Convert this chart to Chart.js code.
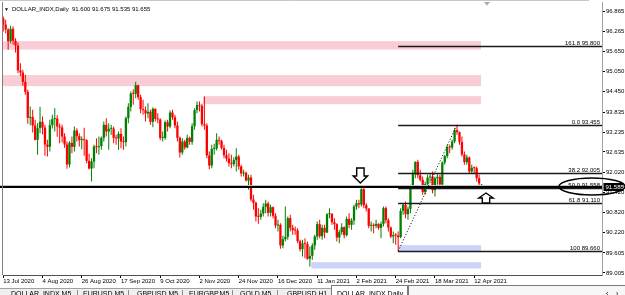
<!DOCTYPE html>
<html>
<head>
<meta charset="utf-8">
<title>DOLLAR_INDX,Daily</title>
<script src="https://cdn.jsdelivr.net/npm/chart.js@4.4.1/dist/chart.umd.min.js"></script>
<style>
  html, body { margin: 0; padding: 0; background: #fff; overflow: hidden; }
  #wrap { position: relative; width: 625px; height: 295px; overflow: hidden;
          font-family: 'Liberation Sans', Arial, sans-serif; color: #000; }
  #chart { position: absolute; left: 0; top: 0; }
  #caption { position: absolute; left: 4px; top: 6px; font-size: 6px; line-height: 6px; white-space: nowrap; }
  #caption .tri { font-size: 5px; margin-right: 3px; }
  #tabbar { position: absolute; left: 0; top: 288px; width: 625px; height: 7px;
            background: #efefef; border-top: 1px solid #a0a0a0; }
  .tab { position: absolute; top: 290px; font-size: 7px; line-height: 7px; white-space: nowrap; }
  .sep { position: absolute; top: 290px; width: 1px; height: 6px; background: #8c8c8c; }
  #active { position: absolute; left: 331px; top: 285px; width: 75px; height: 12px;
            background: #fff; border: 1px solid #7a7a7a; }
  #scroller { position: absolute; left: 408px; top: 285px; width: 217px; height: 12px;
              background: #f7f7f7; border: 1px solid #7a7a7a; }
</style>
</head>
<body>
<div id="wrap">
  <canvas id="chart" width="625" height="288"></canvas>
  <div id="caption"><span class="tri">&#9660;</span>DOLLAR_INDX,Daily&nbsp; 91.600 91.675 91.535 91.655</div>
  <div id="tabbar"></div>
  <div id="active"></div>
  <div id="scroller"></div>
  <span class="tab" style="left:11px">DOLLAR_INDX,M5</span><span class="sep" style="left:77px"></span>
  <span class="tab" style="left:83px">EURUSD,M5</span><span class="sep" style="left:128px"></span>
  <span class="tab" style="left:137px">GBPUSD,M5</span><span class="sep" style="left:182px"></span>
  <span class="tab" style="left:189px">EURGBP,M5</span><span class="sep" style="left:232px"></span>
  <span class="tab" style="left:240px">GOLD,M5</span><span class="sep" style="left:277px"></span>
  <span class="tab" style="left:287px">GBPUSD,H1</span>
  <span class="tab" style="left:337px">DOLLAR_INDX,Daily</span>
  <span class="tab" style="left:606px">&lsaquo;</span><span class="tab" style="left:616px">&rsaquo;</span>
</div>

<script>
// Daily candles, 13 Jul 2020 .. 15 Apr 2021 (one row = one week)
const opens = [
  96.64, 96.46, 96.31, 95.96, 96.33,
  95.97, 95.83, 95.08, 95.02, 94.74,
  94.44, 93.66, 93.69, 93.43, 93.00,
  93.35, 93.54, 93.37, 92.86, 92.79,
  93.44, 93.62, 93.64, 93.40, 93.37,
  93.10, 92.86, 92.26, 92.91, 92.79,
  93.28, 93.11, 92.99, 93.00, 92.99,
  92.37, 92.14, 92.35, 92.80, 92.78,
  92.81, 93.06, 93.45, 93.25, 93.33,
  93.34, 93.06, 93.04, 93.18, 92.95,
  92.93, 93.65, 93.99, 94.39, 94.38,
  94.64, 94.28, 93.92, 93.89, 93.79,
  93.84, 93.54, 93.93, 93.63, 93.61,
  93.06, 93.06, 93.53, 93.40, 93.82,
  93.68, 93.43, 93.06, 92.62, 92.95,
  92.77, 93.06, 92.94, 93.41, 93.89,
  94.04, 94.02, 93.47, 93.43, 92.53,
  92.23, 92.73, 92.74, 93.00, 92.97,
  92.76, 92.54, 92.44, 92.30, 92.27,
  92.39, 92.50, 92.20, 91.99, 92.01, 91.78,
  91.87, 91.21, 91.11, 90.70,
  90.69, 90.79, 90.99, 91.09, 90.81,
  90.98, 90.72, 90.43, 90.45, 89.83,
  90.02, 90.09, 90.65, 90.36, 90.29,
  90.28, 89.96, 89.72, 89.89, 89.88,
  89.43, 89.52, 89.83, 90.10,
  90.47, 90.11, 90.36, 90.22, 90.77,
  90.78, 90.53, 90.47, 90.07, 90.23,
  90.38, 90.14, 90.63, 90.45, 90.58,
  91.00, 91.10, 91.06, 91.52, 91.04,
  90.94, 90.42, 90.43, 90.42, 90.48,
  90.36, 90.48, 90.95, 90.59, 90.37,
  90.10, 90.14, 90.13, 90.08, 90.87,
  91.05, 90.77, 90.93, 91.63, 91.97,
  92.34, 91.94, 91.80, 91.43, 91.67,
  91.87, 91.90, 91.49, 91.85, 91.89,
  91.66, 92.32, 92.51, 92.78, 92.77,
  92.95, 93.29, 93.23, 92.94, 92.56,
  92.33, 92.47, 92.05, 92.16, 92.15,
  91.85, 91.600
];
const highs = [
  96.70, 96.60, 96.35, 96.42, 96.40,
  96.05, 95.92, 95.30, 95.10, 94.95,
  94.50, 94.00, 93.90, 93.60, 93.50,
  93.99, 93.70, 93.45, 93.00, 93.60,
  93.75, 93.95, 93.74, 93.49, 93.45,
  93.20, 92.95, 92.96, 93.10, 93.40,
  93.35, 93.20, 93.10, 93.36, 93.02,
  92.58, 92.45, 92.85, 93.05, 93.10,
  93.10, 93.55, 93.65, 93.50, 93.45,
  93.40, 93.15, 93.25, 93.35, 93.10,
  93.70, 94.10, 94.45, 94.52, 94.74,
  94.65, 94.35, 94.20, 94.00, 94.10,
  93.90, 93.98, 93.95, 93.80, 93.65,
  93.25, 93.58, 93.60, 93.88, 93.90,
  93.75, 93.55, 93.10, 93.05, 93.00,
  93.15, 93.10, 93.50, 93.95, 94.15,
  94.15, 94.08, 94.30, 93.50, 92.65,
  92.85, 92.88, 93.20, 93.10, 93.00,
  92.85, 92.70, 92.60, 92.55, 92.48,
  92.75, 92.55, 92.25, 92.10, 92.05, 91.95,
  91.95, 91.35, 91.15, 90.95,
  90.90, 91.10, 91.20, 91.15, 91.05,
  91.00, 90.80, 90.60, 90.50, 90.12,
  91.00, 90.70, 90.75, 90.45, 90.40,
  90.35, 90.00, 90.00, 90.05, 89.95,
  89.80, 89.90, 90.15, 90.55,
  90.60, 90.45, 90.45, 90.80, 90.95,
  90.80, 90.65, 90.50, 90.30, 90.50,
  90.40, 90.70, 90.80, 90.65, 91.05,
  91.20, 91.20, 91.55, 91.60, 91.10,
  90.95, 90.55, 90.50, 90.60, 90.50,
  90.55, 91.00, 91.00, 90.65, 90.40,
  90.25, 90.20, 90.25, 90.95, 91.10,
  91.15, 91.00, 91.65, 92.10, 92.35,
  92.40, 92.10, 91.90, 91.75, 91.95,
  92.00, 92.05, 91.90, 92.00, 91.95,
  92.35, 92.55, 92.85, 92.85, 93.00,
  93.35, 93.455, 93.25, 93.10, 92.65,
  92.55, 92.50, 92.25, 92.20, 92.20,
  91.95, 91.675
];
const lows = [
  96.25, 96.20, 95.70, 95.90, 95.85,
  95.62, 95.00, 94.91, 94.62, 94.35,
  93.48, 93.44, 93.22, 92.98, 92.55,
  93.20, 93.17, 92.52, 92.50, 92.65,
  93.34, 93.25, 93.09, 92.90, 92.92,
  92.76, 92.13, 92.17, 92.60, 92.65,
  92.95, 92.80, 92.72, 92.52, 92.30,
  92.11, 91.75, 92.15, 92.60, 92.55,
  92.70, 92.95, 93.10, 92.70, 93.15,
  92.90, 92.85, 92.70, 92.75, 92.70,
  92.80, 93.50, 93.85, 94.05, 94.25,
  94.20, 93.80, 93.75, 93.55, 93.65,
  93.45, 93.38, 93.55, 93.50, 92.99,
  92.95, 93.00, 93.25, 93.35, 93.60,
  93.35, 92.95, 92.47, 92.55, 92.70,
  92.75, 92.85, 92.85, 93.30, 93.80,
  93.85, 93.40, 93.30, 92.45, 92.12,
  92.15, 92.55, 92.68, 92.85, 92.70,
  92.45, 92.35, 92.20, 92.15, 92.20,
  92.05, 92.10, 91.90, 91.90, 91.75, 91.50,
  91.15, 90.90, 90.55, 90.48,
  90.60, 90.70, 90.80, 90.70, 90.70,
  90.65, 90.35, 90.25, 89.73, 89.75,
  89.95, 90.00, 90.25, 90.15, 90.15,
  89.90, 89.65, 89.50, 89.45, 89.40,
  89.20, 89.40, 89.70, 90.00,
  90.05, 90.00, 90.05, 90.20, 90.65,
  90.45, 90.30, 89.95, 89.90, 90.15,
  90.05, 90.10, 90.35, 90.30, 90.45,
  90.90, 90.95, 91.00, 90.95, 90.85,
  90.35, 90.25, 90.20, 90.35, 90.30,
  90.05, 90.40, 90.50, 90.25, 90.05,
  89.90, 89.85, 89.66, 90.05, 90.75,
  90.65, 90.60, 90.80, 91.55, 91.85,
  91.85, 91.75, 91.35, 91.35, 91.55,
  91.75, 91.40, 91.30, 91.65, 91.60,
  91.60, 92.25, 92.45, 92.60, 92.70,
  92.90, 93.15, 92.85, 92.50, 92.25,
  92.25, 91.98, 91.98, 92.00, 91.75,
  91.60, 91.535
];
const closes = [
  96.46, 96.31, 95.96, 96.33, 95.97,
  95.83, 95.08, 95.02, 94.74, 94.44,
  93.66, 93.69, 93.43, 93.00, 93.35,
  93.54, 93.37, 92.86, 92.79, 93.44,
  93.62, 93.64, 93.40, 93.37, 93.10,
  92.86, 92.26, 92.91, 92.79, 93.28,
  93.11, 92.99, 93.00, 92.99, 92.37,
  92.14, 92.35, 92.80, 92.78, 92.81,
  93.06, 93.45, 93.25, 93.33, 93.34,
  93.06, 93.04, 93.18, 92.95, 92.93,
  93.65, 93.99, 94.39, 94.38, 94.64,
  94.28, 93.92, 93.89, 93.79, 93.84,
  93.54, 93.93, 93.63, 93.61, 93.06,
  93.07, 93.53, 93.40, 93.82, 93.68,
  93.43, 93.06, 92.62, 92.95, 92.77,
  93.06, 92.94, 93.41, 93.89, 94.04,
  94.02, 93.47, 93.43, 92.53, 92.23,
  92.73, 92.74, 93.00, 92.97, 92.76,
  92.54, 92.44, 92.30, 92.27, 92.39,
  92.50, 92.20, 91.99, 92.01, 91.78, 91.87,
  91.21, 91.11, 90.70, 90.69,
  90.79, 90.99, 91.09, 90.81, 90.98,
  90.72, 90.43, 90.45, 89.83, 90.02,
  90.09, 90.65, 90.36, 90.29, 90.28,
  89.96, 89.72, 89.89, 89.88, 89.43,
  89.52, 89.83, 90.10, 90.47,
  90.11, 90.36, 90.22, 90.77, 90.78,
  90.53, 90.47, 90.07, 90.23, 90.38,
  90.14, 90.63, 90.45, 90.58, 91.00,
  91.10, 91.06, 91.52, 91.04, 90.94,
  90.42, 90.43, 90.42, 90.48, 90.36,
  90.48, 90.95, 90.59, 90.37, 90.10,
  90.14, 90.13, 90.08, 90.87, 91.05,
  90.77, 90.93, 91.63, 91.97, 92.34,
  91.94, 91.80, 91.43, 91.67, 91.87,
  91.90, 91.49, 91.85, 91.89, 91.66,
  92.32, 92.51, 92.78, 92.77, 92.95,
  93.29, 93.23, 92.94, 92.56, 92.33,
  92.47, 92.05, 92.16, 92.15, 91.85,
  91.69, 91.655
];

// time axis: MT4 puts a date label every 16 bars
const xTickLabels = ['13 Jul 2020', '4 Aug 2020', '26 Aug 2020', '17 Sep 2020', '9 Oct 2020',
  '2 Nov 2020', '24 Nov 2020', '16 Dec 2020', '11 Jan 2021', '2 Feb 2021',
  '24 Feb 2021', '18 Mar 2021', '12 Apr 2021'];
const labelEvery = 16;

// price axis labels
const yTickValues = [96.865, 96.265, 95.650, 95.050, 94.450, 93.835, 93.235,
  92.635, 92.020, 91.420, 90.820, 90.220, 89.605, 89.005];

// supply (pink) and demand (blue) zones
const zoneTops = [95.96, 94.94, 94.31, 89.84, 89.33];
const zoneBottoms = [95.71, 94.61, 94.07, 89.66, 89.14];
const zoneStartBars = [-2, -2, 81.5, 161, 125.6];
const zoneEndBar = 194.8;
const zoneKinds = ['supply', 'supply', 'supply', 'demand', 'demand'];

// fibonacci retracement from the 25 Feb low to the 31 Mar high
const fibLowBar = 161;
const fibHighBar = 185;
const fibLow = 89.660;
const fibHigh = 93.455;
const fibRatios = [-61.8, 0, 38.2, 50, 61.8, 100];
const fibNames = ['161.8', '0.0', '38.2', '50.0', '61.8', '100'];

// hand drawn objects
const hLinePrice = 91.585;
const arrowBars = [145.6, 196.8];
const arrowPrices = [91.705, 91.405];
const arrowDirs = ['down', 'up'];

const BULL = '#008000';
const BEAR = '#ff0000';
const ZONE_COLORS = { supply: '#f9ccd6', demand: '#cbd4f6' };
const FONT = "'Liberation Sans', Arial, sans-serif";

const candleColors = closes.map((c, i) => c >= opens[i] ? BULL : BEAR);
const wickData = closes.map((c, i) => ({ x: i, y: [lows[i], highs[i]] }));
const bodyData = closes.map((c, i) => ({ x: i, y: [opens[i], c] }));

function strokeLine(ctx, x0, y0, x1, y1) {
  ctx.beginPath();
  ctx.moveTo(x0, y0);
  ctx.lineTo(x1, y1);
  ctx.stroke();
}

// outline arrow (Wingdings style), tip at (cx, tipY)
function drawArrow(ctx, cx, tipY, dir) {
  const s = dir === 'down' ? -1 : 1;
  const head = dir === 'down' ? 7 : 5;
  const shaft = dir === 'down' ? 8 : 5;
  const hw = 7.2, sw = 3.7;
  ctx.beginPath();
  ctx.moveTo(cx, tipY);
  ctx.lineTo(cx + hw, tipY + s * head);
  ctx.lineTo(cx + sw, tipY + s * head);
  ctx.lineTo(cx + sw, tipY + s * (head + shaft));
  ctx.lineTo(cx - sw, tipY + s * (head + shaft));
  ctx.lineTo(cx - sw, tipY + s * head);
  ctx.lineTo(cx - hw, tipY + s * head);
  ctx.closePath();
  ctx.fillStyle = '#fff';
  ctx.fill();
  ctx.strokeStyle = '#000';
  ctx.lineWidth = 1.4;
  ctx.stroke();
}

// keep the plot box exactly where MT4 has it
function noScalePadding(scale) {
  scale.paddingTop = 0;
  scale.paddingBottom = 0;
  scale.paddingLeft = 0;
  scale.paddingRight = 0;
}

const overlay = {
  id: 'overlay',
  beforeDatasetsDraw(chart) {
    const { ctx, chartArea: a, scales: { x, y } } = chart;
    ctx.save();
    ctx.beginPath();
    ctx.rect(a.left, a.top, a.right - a.left, a.bottom - a.top);
    ctx.clip();
    zoneTops.forEach((top, i) => {
      const x0 = x.getPixelForValue(zoneStartBars[i]);
      const x1 = x.getPixelForValue(zoneEndBar);
      const y0 = y.getPixelForValue(top);
      const y1 = y.getPixelForValue(zoneBottoms[i]);
      ctx.fillStyle = ZONE_COLORS[zoneKinds[i]];
      ctx.fillRect(x0, y0, x1 - x0, y1 - y0);
    });
    ctx.restore();
  },
  afterDatasetsDraw(chart) {
    const { ctx, chartArea: a, scales: { x, y } } = chart;
    ctx.save();

    // bid line
    const bidY = Math.round(y.getPixelForValue(closes[closes.length - 1])) + 0.5;
    ctx.strokeStyle = '#c4c4c4';
    ctx.lineWidth = 1;
    strokeLine(ctx, 0, bidY, a.right, bidY);

    // horizontal level across the whole chart
    const hY = y.getPixelForValue(hLinePrice);
    ctx.strokeStyle = '#000';
    ctx.lineWidth = 2;
    strokeLine(ctx, 0, hY, a.right, hY);

    // fibonacci levels
    const fx = x.getPixelForValue(fibLowBar);
    ctx.font = '6px ' + FONT;
    ctx.textAlign = 'right';
    ctx.textBaseline = 'bottom';
    fibRatios.forEach((r, i) => {
      const p = fibHigh - r / 100 * (fibHigh - fibLow);
      const py = Math.round(y.getPixelForValue(p)) + 0.5;
      ctx.strokeStyle = '#1a1a1a';
      ctx.lineWidth = 1.3;
      strokeLine(ctx, fx, py, a.right, py);
      ctx.fillStyle = '#000';
      ctx.fillText(fibNames[i] + ' ' + (p + 1e-9).toFixed(3), a.right - 2, py - 0.5);
    });

    // fib base line (dotted)
    ctx.setLineDash([1, 2]);
    ctx.lineWidth = 1;
    ctx.strokeStyle = '#000';
    strokeLine(ctx, fx, y.getPixelForValue(fibLow), x.getPixelForValue(fibHighBar), y.getPixelForValue(fibHigh));
    ctx.setLineDash([]);

    // arrows
    arrowBars.forEach((b, i) => {
      drawArrow(ctx, x.getPixelForValue(b), y.getPixelForValue(arrowPrices[i]), arrowDirs[i]);
    });
    ctx.restore();
  },
  afterDraw(chart) {
    const { ctx, chartArea: a, scales: { y } } = chart;
    ctx.save();

    // window frame lines
    ctx.strokeStyle = '#808080';
    ctx.lineWidth = 1;
    strokeLine(ctx, a.left - 0.5, a.top, a.left - 0.5, a.bottom);
    ctx.strokeStyle = '#c8c8c8';
    strokeLine(ctx, 0, 0.5, a.right - 13, 0.5);

    // shift marker
    ctx.fillStyle = '#a8a8a8';
    ctx.beginPath();
    ctx.moveTo(484, 2);
    ctx.lineTo(490, 2);
    ctx.lineTo(487, 5.5);
    ctx.closePath();
    ctx.fill();

    // price label of the horizontal level
    const hY = y.getPixelForValue(hLinePrice);
    ctx.fillStyle = '#000';
    ctx.fillRect(a.right + 1.5, hY - 4, 20, 8);
    ctx.fillStyle = '#fff';
    ctx.font = '6px ' + FONT;
    ctx.textAlign = 'left';
    ctx.textBaseline = 'middle';
    ctx.fillText(hLinePrice.toFixed(3), a.right + 3.5, hY + 0.5);

    // hand drawn ellipse round the level
    ctx.strokeStyle = '#000';
    ctx.lineWidth = 1.5;
    ctx.beginPath();
    ctx.ellipse(a.right - 10, hY - 0.5, 33, 8.5, 0, 0, Math.PI * 2);
    ctx.stroke();
    ctx.restore();
  }
};

new Chart(document.getElementById('chart'), {
  type: 'bar',
  data: {
    datasets: [
      { data: wickData, backgroundColor: candleColors, barThickness: 1, grouped: false, inflateAmount: 0 },
      { data: bodyData, backgroundColor: candleColors, barThickness: 2.3, grouped: false, inflateAmount: 0, minBarLength: 1 }
    ]
  },
  options: {
    responsive: false,
    animation: false,
    devicePixelRatio: 1,
    layout: { padding: { top: 2, left: 3, right: 0, bottom: 0 } },
    plugins: { legend: { display: false }, tooltip: { enabled: false } },
    scales: {
      x: {
        type: 'linear',
        offset: false,
        min: -0.1,
        max: 244.1,
        afterBuildTicks: scale => { scale.ticks = xTickLabels.map((t, i) => ({ value: i * labelEvery })); },
        afterFit: scale => { scale.height = 13; noScalePadding(scale); },
        ticks: {
          autoSkip: false, maxRotation: 0, align: 'start', padding: 0, color: '#000',
          font: { family: FONT, size: 6 },
          callback: (v, i) => xTickLabels[i]
        },
        grid: { offset: false, drawOnChartArea: false, tickLength: 3, color: '#000' },
        border: { color: '#505050', width: 1 }
      },
      y: {
        position: 'right',
        beginAtZero: false,
        min: 88.945,
        max: 97.135,
        afterBuildTicks: scale => { scale.ticks = yTickValues.map(v => ({ value: v })); },
        afterFit: scale => { scale.width = 23; noScalePadding(scale); },
        ticks: {
          autoSkip: false, padding: 1, color: '#000',
          font: { family: FONT, size: 6 },
          callback: v => v.toFixed(3)
        },
        grid: { drawOnChartArea: false, tickLength: 3, color: '#000' },
        border: { color: '#a0a0a0', width: 1 }
      }
    }
  },
  plugins: [overlay]
});
</script>
</body>
</html>
